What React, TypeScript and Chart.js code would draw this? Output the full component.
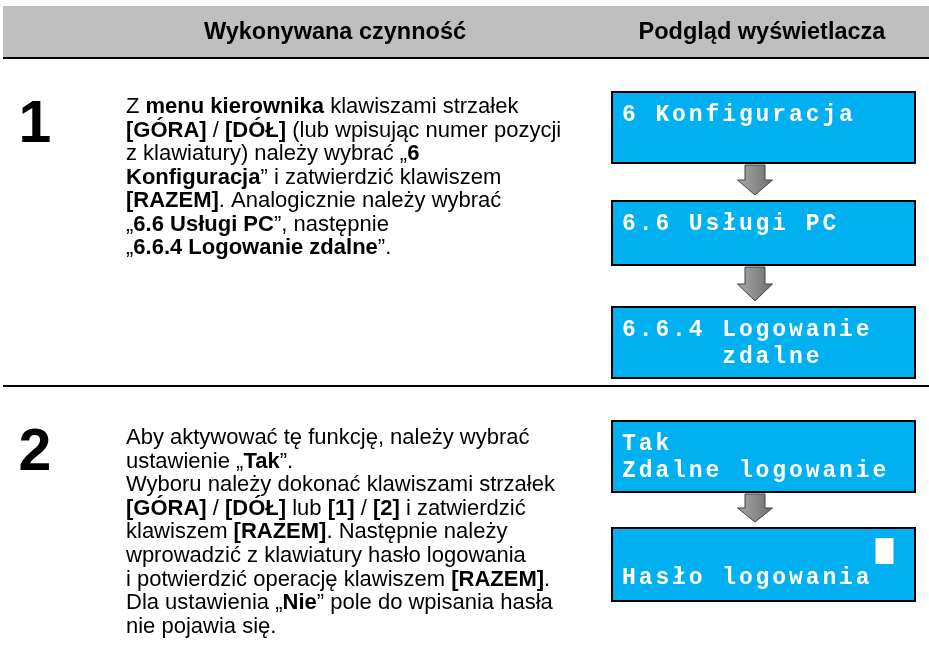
import React, { useEffect, useRef } from "react";
import { Chart, registerables } from "chart.js";

Chart.register(...registerables);

// ---------- content ----------
const HEADERS = ["Wykonywana czynność", "Podgląd wyświetlacza"];
const STEP_NUMBERS = ["1", "2"];
const STEP1_LINES = [
  "Z **menu kierownika** klawiszami strzałek",
  "**[GÓRA]** / **[DÓŁ]** (lub wpisując numer pozycji",
  "z klawiatury) należy wybrać „**6**",
  "**Konfiguracja**” i zatwierdzić klawiszem",
  "**[RAZEM]**. Analogicznie należy wybrać",
  "„**6.6 Usługi PC**”, następnie",
  "„**6.6.4 Logowanie zdalne**”.",
];
const STEP2_LINES = [
  "Aby aktywować tę funkcję, należy wybrać",
  "ustawienie „**Tak**”.",
  "Wyboru należy dokonać klawiszami strzałek",
  "**[GÓRA]** / **[DÓŁ]** lub **[1]** / **[2]** i zatwierdzić",
  "klawiszem **[RAZEM]**. Następnie należy",
  "wprowadzić z klawiatury hasło logowania",
  "i potwierdzić operację klawiszem **[RAZEM]**.",
  "Dla ustawienia „**Nie**” pole do wpisania hasła",
  "nie pojawia się.",
];
const STEP_TEXTS = [STEP1_LINES, STEP2_LINES];
const SCREEN_ROWS = [
  ["6 Konfiguracja", ""],
  ["6.6 Usługi PC", ""],
  ["6.6.4 Logowanie", "      zdalne"],
  ["Tak", "Zdalne logowanie"],
  ["", "Hasło logowania"],
];
const SCREEN_STEP = [0, 0, 0, 1, 1];
const SCREEN_CURSOR = [null, null, null, null, { row: 0, col: 15 }];

// ---------- layout (page units = pixels of the 929x663 page) ----------
const LAYOUT = {
  width: 929,
  height: 663,
  headerTop: 6,
  headerBottom: 57,
  headerLeft: 3,
  headerRule: 2,
  headerCenters: [335, 762],
  headerBaseline: 39,
  headerFont: 23.5,
  stepRules: [385],
  numberX: 35,
  numberBaselines: [142, 470],
  numberFont: 59,
  textX: 126,
  textFirstBaselines: [113, 444],
  textLineGaps: [23.5, 23.6],
  textFont: 22,
  screenLeft: 612,
  screenRight: 915,
  screenTops: [92, 201, 307, 421, 528],
  screenBottoms: [163, 265, 378, 492, 601],
  screenTextX: 622,
  screenCharW: 16.7,
  screenRow1: 29,
  screenRowGap: 27,
  screenFont: 23,
  arrowCx: 755,
};

const SANS = '"Liberation Sans", Arial, sans-serif';
const MONO = '"Liberation Mono", "Courier New", monospace';

function drawRich(ctx: CanvasRenderingContext2D, text: string, x: number, y: number, size: number) {
  const parts = text.split("**");
  let cx = x;
  parts.forEach((p, i) => {
    const bold = i % 2 === 1;
    ctx.font = `${bold ? "bold " : ""}${size}px ${SANS}`;
    ctx.fillText(p, cx, y);
    cx += ctx.measureText(p).width;
  });
}

const pagePlugin = {
  id: "pagePlugin",
  afterDraw(chart: any) {
    const ctx: CanvasRenderingContext2D = chart.ctx;
    const xs = chart.scales.x;
    const ys = chart.scales.y;
    const X = (v: number) => xs.getPixelForValue(v);
    const Y = (v: number) => ys.getPixelForValue(v);
    const L = LAYOUT;
    ctx.save();

    // header band
    ctx.fillStyle = "#bfbfbf";
    ctx.fillRect(X(L.headerLeft), Y(L.headerTop), X(L.width) - X(L.headerLeft), Y(L.headerBottom) - Y(L.headerTop));
    ctx.fillStyle = "#000";
    ctx.fillRect(X(L.headerLeft), Y(L.headerBottom), X(L.width) - X(L.headerLeft), L.headerRule);
    L.stepRules.forEach((r) => ctx.fillRect(X(L.headerLeft), Y(r), X(L.width) - X(L.headerLeft), L.headerRule));

    ctx.textBaseline = "alphabetic";
    ctx.textAlign = "center";
    ctx.font = `bold ${L.headerFont}px ${SANS}`;
    HEADERS.forEach((h, i) => ctx.fillText(h, X(L.headerCenters[i]), Y(L.headerBaseline)));

    // step numbers
    ctx.font = `bold ${L.numberFont}px ${SANS}`;
    STEP_NUMBERS.forEach((n, i) => ctx.fillText(n, X(L.numberX), Y(L.numberBaselines[i])));

    // step texts
    ctx.textAlign = "left";
    STEP_TEXTS.forEach((lines, s) => {
      lines.forEach((ln, j) =>
        drawRich(ctx, ln, X(L.textX), Y(L.textFirstBaselines[s] + j * L.textLineGaps[s]), L.textFont)
      );
    });

    // screens
    SCREEN_ROWS.forEach((rows, k) => {
      const x0 = X(L.screenLeft), x1 = X(L.screenRight);
      const y0 = Y(L.screenTops[k]), y1 = Y(L.screenBottoms[k]);
      ctx.fillStyle = "#00b0f0";
      ctx.fillRect(x0, y0, x1 - x0, y1 - y0);
      ctx.strokeStyle = "#000";
      ctx.lineWidth = 2;
      ctx.strokeRect(x0, y0, x1 - x0, y1 - y0);
      ctx.fillStyle = "#fff";
      ctx.font = `bold ${L.screenFont}px ${MONO}`;
      rows.forEach((row, r) => {
        const by = Y(L.screenTops[k] + L.screenRow1 + r * L.screenRowGap);
        Array.from(row).forEach((ch, c) => {
          if (ch !== " ") ctx.fillText(ch, X(L.screenTextX + c * L.screenCharW), by);
        });
      });
      const cur = SCREEN_CURSOR[k];
      if (cur) {
        const cx = X(L.screenTextX + cur.col * L.screenCharW + 3);
        const cyBase = L.screenTops[k] + L.screenRow1 + cur.row * L.screenRowGap;
        ctx.fillRect(cx, Y(cyBase - 19), 18, 26);
      }
      // arrow to next screen of the same step
      if (k + 1 < SCREEN_ROWS.length && SCREEN_STEP[k + 1] === SCREEN_STEP[k]) {
        const top = L.screenBottoms[k] + 2;
        const bottom = L.screenTops[k + 1] - 6;
        const mid = top + (bottom - top) * 0.5;
        const cx = L.arrowCx;
        const sw = 10, hw = 17.5;
        ctx.beginPath();
        ctx.moveTo(X(cx - sw), Y(top));
        ctx.lineTo(X(cx + sw), Y(top));
        ctx.lineTo(X(cx + sw), Y(mid));
        ctx.lineTo(X(cx + hw), Y(mid));
        ctx.lineTo(X(cx), Y(bottom));
        ctx.lineTo(X(cx - hw), Y(mid));
        ctx.lineTo(X(cx - sw), Y(mid));
        ctx.closePath();
        const g = ctx.createLinearGradient(X(cx - hw), 0, X(cx + hw), 0);
        g.addColorStop(0, "#a8a8a8");
        g.addColorStop(1, "#6f6f6f");
        ctx.fillStyle = g;
        ctx.fill();
        ctx.strokeStyle = "#404040";
        ctx.lineWidth = 1;
        ctx.stroke();
      }
    });
    ctx.restore();
  },
};

export default function App() {
  const ref = useRef<HTMLCanvasElement | null>(null);
  useEffect(() => {
    document.body.style.margin = "0";
    const canvas = ref.current;
    if (!canvas) return;
    const chart = new Chart(canvas, {
      type: "scatter",
      data: { datasets: [{ data: [], pointRadius: 0 }] },
      options: {
        animation: false,
        responsive: false,
        maintainAspectRatio: false,
        layout: { padding: 0 },
        plugins: { legend: { display: false }, tooltip: { enabled: false } },
        scales: {
          x: { type: "linear", min: 0, max: LAYOUT.width, display: false },
          y: { type: "linear", min: 0, max: LAYOUT.height, reverse: true, display: false },
        },
      },
      plugins: [pagePlugin],
    });
    return () => chart.destroy();
  }, []);
  return (
    <div style={{ width: LAYOUT.width, height: LAYOUT.height, background: "#fff" }}>
      <canvas ref={ref} width={LAYOUT.width} height={LAYOUT.height} style={{ display: "block" }} />
    </div>
  );
}
